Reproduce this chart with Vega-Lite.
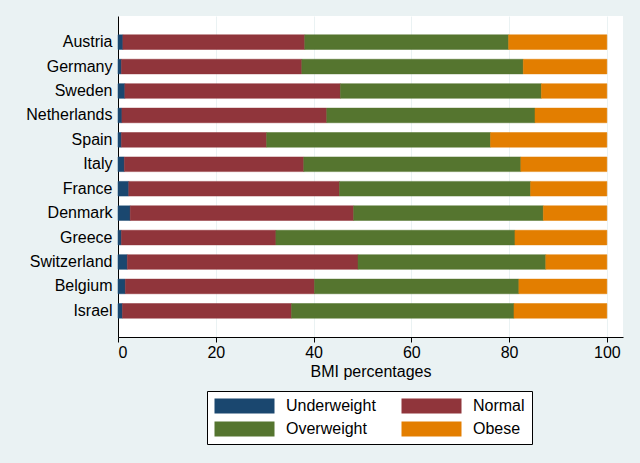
{
  "$schema": "https://vega.github.io/schema/vega-lite/v6.json",
  "width": 505,
  "height": 321,
  "autosize": {"type": "none"},
  "padding": {"left": 118, "top": 16, "right": 17, "bottom": 126},
  "background": "#EAF2F3",
  "data": {
    "values": [
      {"country": "Austria", "bmi": "Underweight", "pct": 1.0, "ord": 1},
      {"country": "Austria", "bmi": "Normal", "pct": 37.2, "ord": 2},
      {"country": "Austria", "bmi": "Overweight", "pct": 41.7, "ord": 3},
      {"country": "Austria", "bmi": "Obese", "pct": 20.1, "ord": 4},
      {"country": "Germany", "bmi": "Underweight", "pct": 0.7, "ord": 1},
      {"country": "Germany", "bmi": "Normal", "pct": 36.9, "ord": 2},
      {"country": "Germany", "bmi": "Overweight", "pct": 45.3, "ord": 3},
      {"country": "Germany", "bmi": "Obese", "pct": 17.1, "ord": 4},
      {"country": "Sweden", "bmi": "Underweight", "pct": 1.4, "ord": 1},
      {"country": "Sweden", "bmi": "Normal", "pct": 44.1, "ord": 2},
      {"country": "Sweden", "bmi": "Overweight", "pct": 41.1, "ord": 3},
      {"country": "Sweden", "bmi": "Obese", "pct": 13.4, "ord": 4},
      {"country": "Netherlands", "bmi": "Underweight", "pct": 0.8, "ord": 1},
      {"country": "Netherlands", "bmi": "Normal", "pct": 41.9, "ord": 2},
      {"country": "Netherlands", "bmi": "Overweight", "pct": 42.6, "ord": 3},
      {"country": "Netherlands", "bmi": "Obese", "pct": 14.7, "ord": 4},
      {"country": "Spain", "bmi": "Underweight", "pct": 0.7, "ord": 1},
      {"country": "Spain", "bmi": "Normal", "pct": 29.7, "ord": 2},
      {"country": "Spain", "bmi": "Overweight", "pct": 45.8, "ord": 3},
      {"country": "Spain", "bmi": "Obese", "pct": 23.8, "ord": 4},
      {"country": "Italy", "bmi": "Underweight", "pct": 1.3, "ord": 1},
      {"country": "Italy", "bmi": "Normal", "pct": 36.7, "ord": 2},
      {"country": "Italy", "bmi": "Overweight", "pct": 44.4, "ord": 3},
      {"country": "Italy", "bmi": "Obese", "pct": 17.6, "ord": 4},
      {"country": "France", "bmi": "Underweight", "pct": 2.2, "ord": 1},
      {"country": "France", "bmi": "Normal", "pct": 43.1, "ord": 2},
      {"country": "France", "bmi": "Overweight", "pct": 39.1, "ord": 3},
      {"country": "France", "bmi": "Obese", "pct": 15.6, "ord": 4},
      {"country": "Denmark", "bmi": "Underweight", "pct": 2.5, "ord": 1},
      {"country": "Denmark", "bmi": "Normal", "pct": 45.7, "ord": 2},
      {"country": "Denmark", "bmi": "Overweight", "pct": 38.8, "ord": 3},
      {"country": "Denmark", "bmi": "Obese", "pct": 13.0, "ord": 4},
      {"country": "Greece", "bmi": "Underweight", "pct": 0.7, "ord": 1},
      {"country": "Greece", "bmi": "Normal", "pct": 31.6, "ord": 2},
      {"country": "Greece", "bmi": "Overweight", "pct": 48.9, "ord": 3},
      {"country": "Greece", "bmi": "Obese", "pct": 18.8, "ord": 4},
      {"country": "Switzerland", "bmi": "Underweight", "pct": 1.9, "ord": 1},
      {"country": "Switzerland", "bmi": "Normal", "pct": 47.2, "ord": 2},
      {"country": "Switzerland", "bmi": "Overweight", "pct": 38.4, "ord": 3},
      {"country": "Switzerland", "bmi": "Obese", "pct": 12.5, "ord": 4},
      {"country": "Belgium", "bmi": "Underweight", "pct": 1.5, "ord": 1},
      {"country": "Belgium", "bmi": "Normal", "pct": 38.7, "ord": 2},
      {"country": "Belgium", "bmi": "Overweight", "pct": 41.8, "ord": 3},
      {"country": "Belgium", "bmi": "Obese", "pct": 18.0, "ord": 4},
      {"country": "Israel", "bmi": "Underweight", "pct": 0.9, "ord": 1},
      {"country": "Israel", "bmi": "Normal", "pct": 34.6, "ord": 2},
      {"country": "Israel", "bmi": "Overweight", "pct": 45.5, "ord": 3},
      {"country": "Israel", "bmi": "Obese", "pct": 19.0, "ord": 4}
    ]
  },
  "mark": {"type": "bar", "strokeWidth": 0.5},
  "encoding": {
    "y": {
      "field": "country",
      "type": "nominal",
      "sort": null,
      "title": null,
      "scale": {"paddingInner": 0.4, "paddingOuter": 0.77},
      "axis": {
        "ticks": false,
        "tickSize": 0,
        "labelPadding": 6,
        "grid": false
      }
    },
    "x": {
      "field": "pct",
      "type": "quantitative",
      "stack": "zero",
      "title": "BMI percentages",
      "scale": {"domain": [0, 103.3], "nice": false, "zero": true},
      "axis": {
        "values": [0, 20, 40, 60, 80, 100],
        "tickSize": 5,
        "labelPadding": 2,
        "titlePadding": 3,
        "grid": true,
        "gridColor": "#EAF2F3",
        "gridWidth": 1
      }
    },
    "color": {
      "field": "bmi",
      "type": "nominal",
      "scale": {
        "domain": ["Underweight", "Normal", "Overweight", "Obese"],
        "range": ["#1A476F", "#90353B", "#55752F", "#E37E00"]
      },
      "legend": {
        "title": null,
        "orient": "none",
        "direction": "horizontal",
        "legendX": 89,
        "legendY": 375,
        "columns": 2
      }
    },
    "stroke": {
      "field": "bmi",
      "type": "nominal",
      "scale": {
        "domain": ["Underweight", "Normal", "Overweight", "Obese"],
        "range": ["#1A476F", "#90353B", "#55752F", "#E37E00"]
      },
      "legend": null
    },
    "order": {"field": "ord", "type": "quantitative"}
  },
  "config": {
    "font": "Liberation Sans",
    "view": {"fill": "white", "stroke": null},
    "axis": {
      "domainColor": "#000000",
      "domainWidth": 1,
      "tickColor": "#000000",
      "labelFont": "Liberation Sans",
      "labelFontSize": 16,
      "labelColor": "#000000",
      "titleFont": "Liberation Sans",
      "titleFontSize": 16,
      "titleFontWeight": "normal",
      "titleColor": "#000000"
    },
    "legend": {
      "strokeColor": "#000000",
      "fillColor": "#FFFFFF",
      "padding": 7,
      "cornerRadius": 0,
      "symbolType": "M-1,-1H7V1H-1Z",
      "symbolSize": 225,
      "symbolStrokeWidth": 0,
      "symbolOpacity": 1,
      "labelFont": "Liberation Sans",
      "labelFontSize": 16,
      "labelColor": "#000000",
      "labelOffset": 56,
      "columnPadding": 25,
      "rowPadding": 7
    }
  }
}
